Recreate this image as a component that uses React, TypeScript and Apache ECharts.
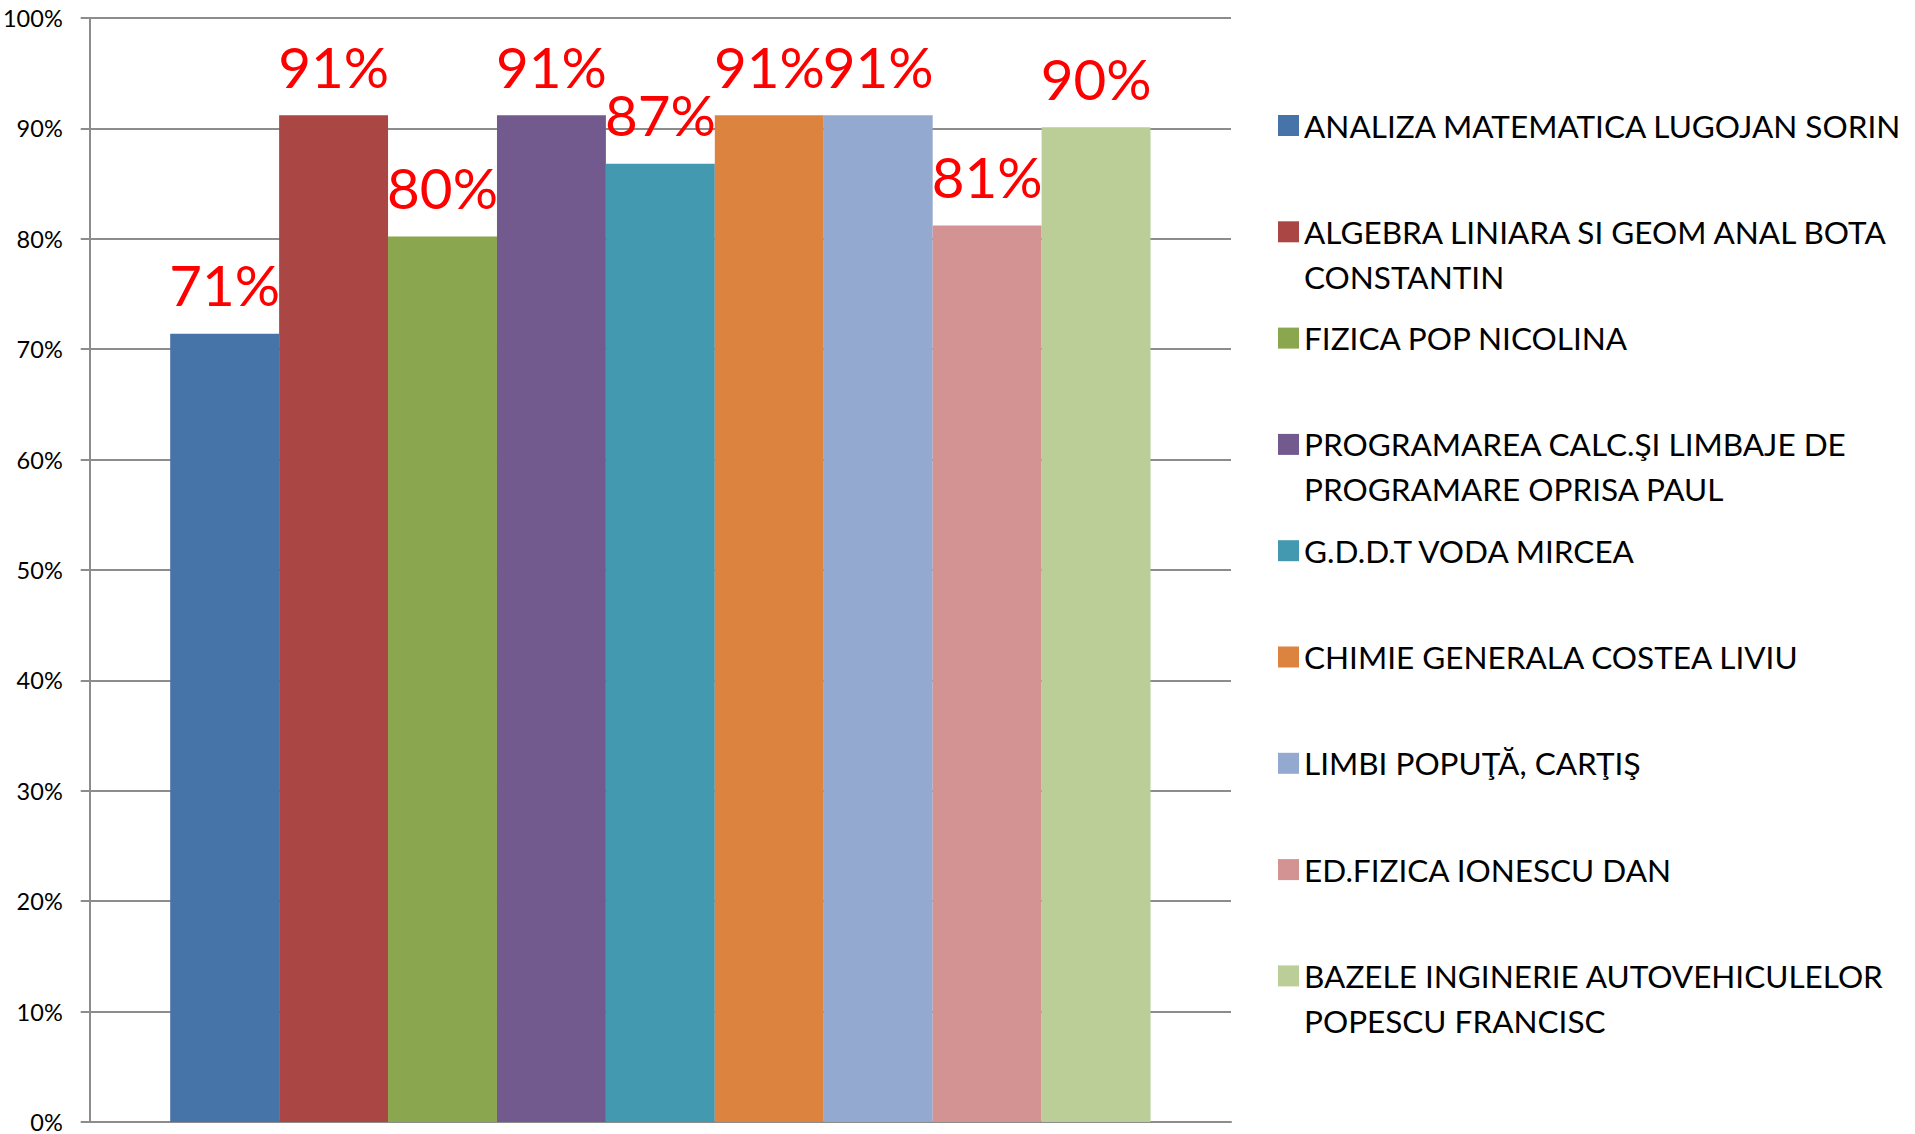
import React, { useEffect, useRef } from 'react';
import * as echarts from 'echarts';

const categories = [''];

const seriesNames = [
  'ANALIZA MATEMATICA LUGOJAN SORIN',
  'ALGEBRA LINIARA SI GEOM ANAL BOTA CONSTANTIN',
  'FIZICA POP NICOLINA',
  'PROGRAMAREA CALC.ŞI LIMBAJE DE PROGRAMARE OPRISA PAUL',
  'G.D.D.T VODA MIRCEA',
  'CHIMIE GENERALA COSTEA LIVIU',
  'LIMBI POPUŢĂ, CARŢIŞ',
  'ED.FIZICA IONESCU DAN',
  'BAZELE INGINERIE AUTOVEHICULELOR POPESCU FRANCISC',
];

const legendLines = [
  ['ANALIZA MATEMATICA LUGOJAN SORIN'],
  ['ALGEBRA LINIARA SI GEOM ANAL BOTA', 'CONSTANTIN'],
  ['FIZICA POP NICOLINA'],
  ['PROGRAMAREA CALC.ŞI LIMBAJE DE', 'PROGRAMARE OPRISA PAUL'],
  ['G.D.D.T VODA MIRCEA'],
  ['CHIMIE GENERALA COSTEA LIVIU'],
  ['LIMBI POPUŢĂ, CARŢIŞ'],
  ['ED.FIZICA IONESCU DAN'],
  ['BAZELE INGINERIE AUTOVEHICULELOR', 'POPESCU FRANCISC'],
];

const seriesValues = [71.4, 91.2, 80.2, 91.2, 86.8, 91.2, 91.2, 81.2, 90.1];

const seriesColors = [
  '#4774A8',
  '#AA4644',
  '#8AA64E',
  '#725A8E',
  '#4399B0',
  '#DC843F',
  '#94A9CF',
  '#D29392',
  '#BBCE97',
];

const yMin = 0;
const yMax = 100;
const yInterval = 10;

const textFont = "Lato, 'Liberation Sans', sans-serif";

export default function App() {
  const ref = useRef<HTMLDivElement>(null);

  useEffect(() => {
    if (!ref.current) return;
    const chart = echarts.init(ref.current, null, { renderer: 'svg' });

    const option = {
      animation: false,
      backgroundColor: '#ffffff',
      grid: { left: 86, right: 684, top: 18, bottom: 7, containLabel: false },
      legend: {
        orient: 'vertical',
        left: 1278,
        top: 58,
        padding: 0,
        itemGap: -28.7,
        itemWidth: 21,
        itemHeight: 21,
        icon: 'rect',
        selectedMode: false,
        data: seriesNames,
        formatter: (name: string) => {
          const idx = seriesNames.indexOf(name);
          const lines = legendLines[idx];
          return '\n' + lines.join('\n') + (lines.length === 1 ? '\n' : '');
        },
        textStyle: {
          fontFamily: textFont,
          fontSize: 31.5,
          lineHeight: 45,
          color: '#000000',
        },
      },
      xAxis: {
        type: 'category',
        data: categories,
        axisLine: { show: true, lineStyle: { color: '#8c8c8c', width: 2 } },
        axisTick: { show: false },
        axisLabel: { show: false },
        splitLine: { show: false },
      },
      yAxis: {
        type: 'value',
        min: yMin,
        max: yMax,
        interval: yInterval,
        axisLine: { show: true, lineStyle: { color: '#8c8c8c', width: 2 } },
        axisTick: { show: true, length: 9, lineStyle: { color: '#8c8c8c', width: 2 } },
        axisLabel: {
          formatter: '{value}%',
          margin: 27,
          fontFamily: textFont,
          fontSize: 23.5,
          color: '#000000',
        },
        splitLine: { show: true, lineStyle: { color: '#8c8c8c', width: 2 } },
      },
      series: seriesNames.map((name, i) => ({
        name,
        type: 'bar',
        data: [seriesValues[i]],
        barGap: '0%',
        barCategoryGap: '14.1%',
        itemStyle: { color: seriesColors[i] },
        label: {
          show: true,
          position: 'top',
          distance: 21,
          formatter: (p: any) => Math.round(p.value) + '%',
          fontFamily: textFont,
          fontSize: 56.5,
          color: '#FF0000',
        },
      })),
    };

    chart.setOption(option as any);
    return () => {
      chart.dispose();
    };
  }, []);

  return (
    <div
      ref={ref}
      style={{ position: 'absolute', left: 0, top: 0, width: 1915, height: 1134 }}
    />
  );
}
